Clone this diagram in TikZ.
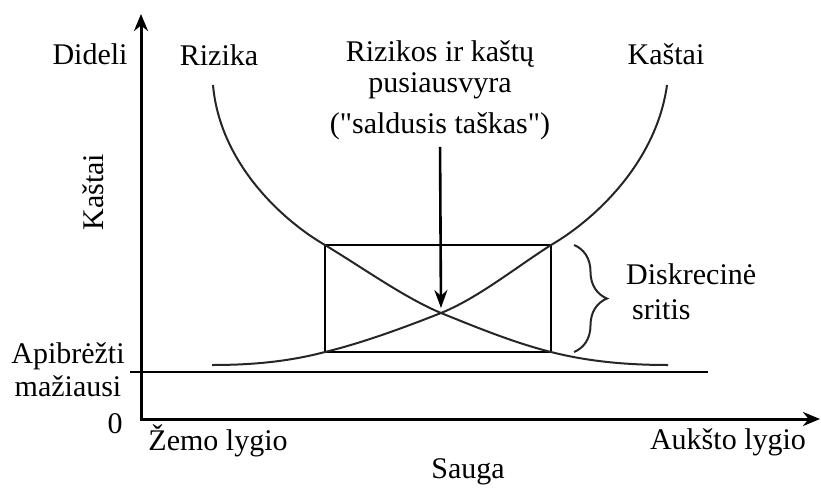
\documentclass[tikz,border=0pt]{standalone}
\usepackage{fontspec}
\setmainfont{Liberation Serif}[Ligatures=TeXOff]
\usetikzlibrary{arrows.meta, decorations.pathreplacing}

\begin{document}
\begin{tikzpicture}[x=1pt, y=-1pt,
      lbl/.style={font=\fontsize{30}{33}\selectfont, inner sep=0pt, align=center},
      axis/.style={line width=3pt, {Stealth[length=17pt, width=14pt]}-{Stealth[length=17pt, width=14pt]}},
      frame/.style={line width=2.8pt},
      curve/.style={line width=2pt, black!85},
      pointer/.style={line width=2.6pt, -{Stealth[length=18pt, width=13pt]}}
    ]
      \useasboundingbox (0,0) rectangle (821,487);

      % axes and the minimum line
      \coordinate (ytip) at (141,14);
      \coordinate (o)    at (141,419);
      \coordinate (xtip) at (820,419);
      \draw[axis] (ytip) -- (o) -- (xtip);
      \coordinate (min1) at (130,372);
      \coordinate (min2) at (708,372);
      \draw[frame] (min1) -- (min2);

      % discretionary box
      \coordinate (box1)  at (325,245);
      \coordinate (box2)  at (551,352);
      \coordinate (sweet) at (441,313);
      \draw[frame] (box1) rectangle (box2);

      % curves
      \draw[curve] (213,85) .. controls (220,165) and (285,222) .. (box1)
                   .. controls (363,268) and (405,298) .. (sweet)
                   .. controls (478,328) and (515,343) .. (box2)
                   .. controls (590,362) and (630,365) .. (668,365);
      \draw[curve] (212,365) .. controls (250,365) and (287,362) .. (box1 |- box2)
                   .. controls (362,343) and (403,328) .. (sweet)
                   .. controls (478,298) and (515,268) .. (box2 |- box1)
                   .. controls (591,222) and (656,165) .. (667,85);

      \coordinate (br1) at (574,245);
      \coordinate (br2) at (574,352);
      \draw[curve, decorate, decoration={brace, amplitude=33pt}] (br1) -- (br2);

      % labels
      \node[lbl] (dideli)  at (90,54)   {Dideli};
      \node[lbl] (rizika)  at (219,55)  {Rizika};
      \node[lbl] (kastai)  at (666,54)  {Kaštai};
      \node[lbl, font=\fontsize{30}{31}\selectfont] (balance) at (440,90) {Rizikos ir kaštų\\pusiausvyra\\[10pt]("saldusis taškas")};
      \node[lbl, rotate=90] (kastaiy) at (93,192) {Kaštai};
      \node[lbl, align=left, anchor=west, font=\fontsize{30}{35}\selectfont] (diskr) at (626,292) {Diskrecinė\\\hspace*{6pt}sritis};
      \node[lbl] (apibr)   at (68,370)  {Apibrėžti\\mažiausi};
      \node[lbl] (zero)    at (115,424) {0};
      \node[lbl] (zemo)    at (218,441) {Žemo lygio};
      \node[lbl] (auksto)  at (728,442) {Aukšto lygio};
      \node[lbl] (sauga)   at (468,472) {Sauga};

      \draw[pointer, shorten <=7pt, shorten >=5pt] (balance.south) -- (sweet);
    \end{tikzpicture}
\end{document}
